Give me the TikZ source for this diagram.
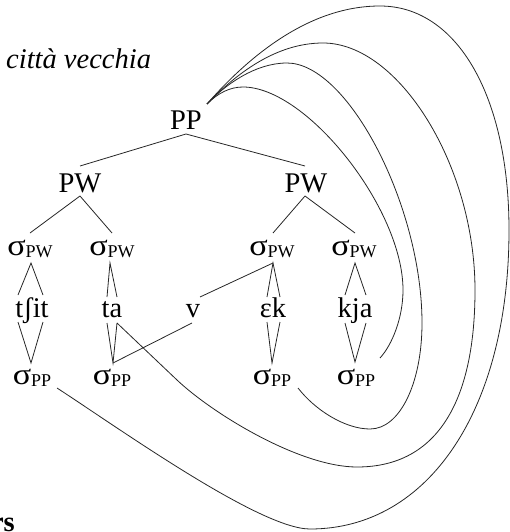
\documentclass[tikz,border=0pt]{standalone}
\usepackage{fontspec}
\setmainfont{Liberation Serif}
\newcommand\subtxt[1]{\raisebox{-2pt}{\fontsize{18}{18}\selectfont #1}}
\newcommand\sig{\scalebox{1.2}[1.05]{σ}}
\begin{document}
\begin{tikzpicture}[x=1pt,y=-1pt,
  lab/.style={inner sep=0pt,anchor=base,font=\fontsize{28.5}{34}\selectfont},
  edge/.style={line width=0.8pt,black!85},
  arc/.style={line width=0.8pt,black!85}]
\useasboundingbox (0,0) rectangle (509,532);
% texts
\node[lab,anchor=base west,font=\fontsize{28.5}{34}\selectfont\itshape] (title) at (6,69) {città vecchia};
\node[lab,anchor=base east,font=\fontsize{28.5}{34}\selectfont\bfseries] (frag) at (15,531) {rs};
\node[lab] (PP) at (186,129) {PP};
\node[lab] (PWl) at (80,192) {PW};
\node[lab] (PWr) at (306,192) {PW};
\node[lab] (s1) at (30,255) {\sig\subtxt{PW}};
\node[lab] (s2) at (112,255) {\sig\subtxt{PW}};
\node[lab] (s3) at (272,255) {\sig\subtxt{PW}};
\node[lab] (s4) at (354,255) {\sig\subtxt{PW}};
\node[lab] (m1) at (32,317) {tʃit};
\node[lab] (m2) at (112,317) {ta};
\node[lab] (m3) at (193,317) {v};
\node[lab] (m4) at (273,317) {ɛk};
\node[lab] (m5) at (355,317) {kja};
\node[lab] (p1) at (32,384) {\sig\subtxt{PP}};
\node[lab] (p2) at (112,384) {\sig\subtxt{PP}};
\node[lab] (p3) at (272,384) {\sig\subtxt{PP}};
\node[lab] (p4) at (356,384) {\sig\subtxt{PP}};
% tree edges
\draw[edge] ([yshift=-5pt]PP.base) -- ([yshift=26pt]PWl.base);
\draw[edge] ([yshift=-5pt]PP.base) -- ([xshift=-1pt,yshift=26pt]PWr.base);
\draw[edge] ([yshift=-4pt]PWl.base) -- ([yshift=22pt]s1.base);
\draw[edge] ([yshift=-4pt]PWl.base) -- ([yshift=22pt]s2.base);
\draw[edge] ([xshift=-1pt,yshift=-4pt]PWr.base) -- ([xshift=1pt,yshift=22pt]s3.base);
\draw[edge] ([xshift=-1pt,yshift=-4pt]PWr.base) -- ([xshift=1pt,yshift=22pt]s4.base);
% diamonds
\draw[edge] ([xshift=-14pt,yshift=22pt]m1.base) -- ([xshift=1pt,yshift=-8pt]s1.base) -- ([xshift=11pt,yshift=22pt]m1.base);
\draw[edge] ([xshift=-14pt,yshift=-5pt]m1.base) -- ([xshift=-1pt,yshift=21pt]p1.base) -- ([xshift=11pt,yshift=-5pt]m1.base);
\draw[edge] ([xshift=-5pt,yshift=20pt]m2.base) -- ([xshift=-2pt,yshift=-8pt]s2.base) -- ([xshift=5pt,yshift=20pt]m2.base);
\draw[edge] ([xshift=-5pt,yshift=-6pt]m2.base) -- ([xshift=1pt,yshift=21pt]p2.base) -- ([xshift=5pt,yshift=-6pt]m2.base);
\draw[edge] ([xshift=-6pt,yshift=20pt]m4.base) -- ([xshift=1pt,yshift=-8pt]s3.base) -- ([xshift=7pt,yshift=20pt]m4.base);
\draw[edge] ([xshift=-6pt,yshift=-5pt]m4.base) -- ([yshift=21pt]p3.base) -- ([xshift=7pt,yshift=-5pt]m4.base);
\draw[edge] ([xshift=-10pt,yshift=22pt]m5.base) -- ([xshift=1pt,yshift=-8pt]s4.base) -- ([xshift=11pt,yshift=22pt]m5.base);
\draw[edge] ([xshift=-10pt,yshift=-6pt]m5.base) -- ([xshift=-1pt,yshift=22pt]p4.base) -- ([xshift=11pt,yshift=-6pt]m5.base);
% v links
\draw[edge] ([xshift=7pt,yshift=20pt]m3.base) -- ([xshift=1pt,yshift=-8pt]s3.base);
\draw[edge] ([xshift=-1pt,yshift=-6pt]m3.base) -- ([xshift=1pt,yshift=21pt]p2.base);
% arcs from PP
\coordinate (st) at ([xshift=21pt,yshift=25pt]PP.base);
\draw[arc] (st) .. controls (218,93) and (230,87) .. (243,87)
  .. controls (307,87) and (403,209) .. (403,290)
  .. controls (403,318) and (392,345) .. ([xshift=24pt,yshift=26pt]p4.base);
\draw[arc] (st) .. controls (225,85) and (255,63) .. (287,63)
  .. controls (348,63) and (422,206) .. (422,323)
  .. controls (422,383) and (400,429) .. (370,429)
  .. controls (345,429) and (315,410) .. ([xshift=26pt,yshift=-4pt]p3.base);
\draw[arc] (st) .. controls (235,75) and (275,43) .. (323,43)
  .. controls (399,43) and (475,166) .. (475,290)
  .. controls (475,397) and (440,467) .. (357,467)
  .. controls (300,467) and (213,414) .. (177,380)
  -- ([xshift=5pt,yshift=-6pt]m2.base);
\draw[arc] (st) .. controls (250,55) and (310,6) .. (380,6)
  .. controls (457,6) and (509,96) .. (509,230)
  .. controls (509,409) and (429,529) .. (310,529)
  .. controls (260,529) and (120,429) .. ([xshift=25pt,yshift=-4pt]p1.base);
\end{tikzpicture}
\end{document}
